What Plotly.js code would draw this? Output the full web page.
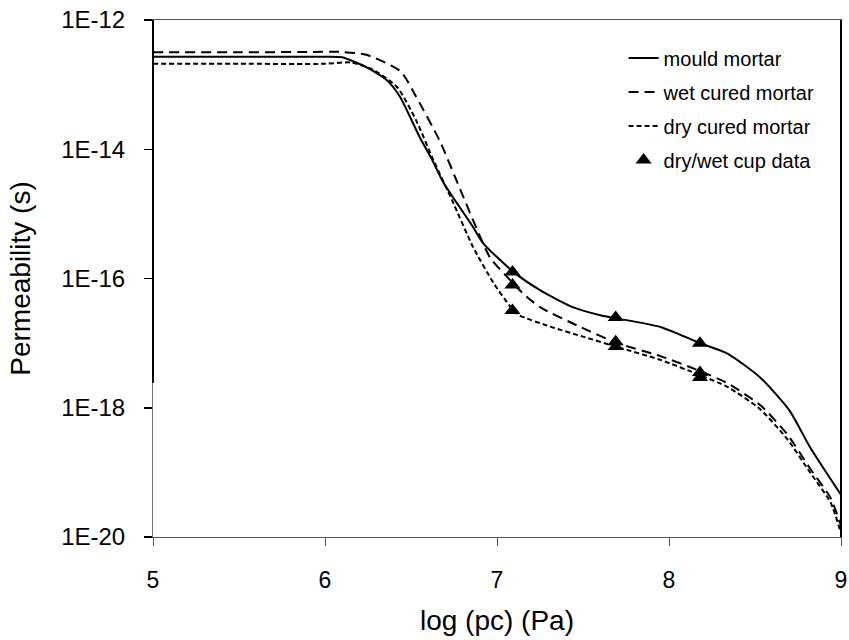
<!DOCTYPE html>
<html>
<head>
<meta charset="utf-8">
<script src="https://cdn.plot.ly/plotly-3.0.1.min.js"></script>
<style>html,body{margin:0;padding:0;background:#fff;}#chart{width:849px;height:640px;}</style>
</head>
<body>
<div id="chart"></div>
<script>
// log(pc) values and permeability (s)
const mouldX = [5.0, 5.5, 6.0, 6.1, 6.24, 6.36, 6.436, 6.55, 6.62, 6.69, 6.86, 6.92, 7.09, 7.25, 7.44, 7.60, 7.95, 8.18, 8.34, 8.53, 8.70, 8.82, 9.0];
const mouldY = [2.7e-13, 2.7e-13, 2.7e-13, 2.65e-13, 1.86e-13, 1.17e-13, 6.5e-14, 1.55e-14, 7.1e-15, 3.0e-15, 6.3e-16, 3.5e-16, 1.3e-16, 6.6e-17, 3.6e-17, 2.7e-17, 1.78e-17, 1.0e-17, 6.9e-18, 2.95e-18, 9.1e-19, 2.45e-19, 4.5e-20];

const wetX = [5.0, 5.5, 5.9, 6.1, 6.24, 6.44, 6.53, 6.67, 6.80, 6.96, 7.06, 7.15, 7.25, 7.48, 7.70, 7.95, 8.18, 8.34, 8.53, 8.69, 8.82, 8.94, 9.0];
const wetY = [3.16e-13, 3.16e-13, 3.2e-13, 3.2e-13, 2.9e-13, 1.6e-13, 6.5e-14, 1.3e-14, 1.95e-15, 2.1e-16, 1.05e-16, 5.9e-17, 3.6e-17, 1.8e-17, 1.0e-17, 6.3e-18, 3.7e-18, 2.4e-18, 1.1e-18, 3.8e-19, 1.15e-19, 4.0e-20, 1.5e-20];

const dryX = [5.0, 5.5, 6.0, 6.15, 6.28, 6.42, 6.53, 6.63, 6.74, 6.86, 6.98, 7.08, 7.13, 7.31, 7.50, 7.70, 7.95, 8.18, 8.34, 8.53, 8.69, 8.82, 8.94, 9.0];
const dryY = [2.1e-13, 2.1e-13, 2.1e-13, 2.2e-13, 1.7e-13, 9.1e-14, 2.8e-14, 6.8e-15, 1.6e-15, 3.1e-16, 8.5e-17, 3.6e-17, 2.7e-17, 1.8e-17, 1.26e-17, 8.7e-18, 5.5e-18, 3.2e-18, 2.1e-18, 9.5e-19, 3.2e-19, 1.0e-19, 3.4e-20, 1.15e-20];

const cupX = [7.09, 7.09, 7.09, 7.69, 7.69, 7.69, 8.18, 8.18, 8.18];
const cupY = [1.26e-16, 7.9e-17, 3.2e-17, 2.5e-17, 1.05e-17, 8.9e-18, 1.0e-17, 3.5e-18, 2.95e-18];

const xTicks = [5, 6, 7, 8, 9];
const yTickVals = [1e-20, 1e-18, 1e-16, 1e-14, 1e-12];
const yTickText = ['1E-20', '1E-18', '1E-16', '1E-14', '1E-12'];

const seriesNames = ['mould mortar', 'wet cured mortar', 'dry cured mortar', 'dry/wet cup data'];

const FONT = 'Liberation Sans, Arial, sans-serif';

const traces = [
  {x: mouldX, y: mouldY, name: seriesNames[0], mode: 'lines', legendgroup: 'a',
   line: {color: '#000', width: 2, shape: 'spline', smoothing: 0.6}},
  {x: wetX, y: wetY, name: seriesNames[1], mode: 'lines', legendgroup: 'b',
   line: {color: '#000', width: 2, dash: '10px,6px', shape: 'spline', smoothing: 0.6}},
  {x: dryX, y: dryY, name: seriesNames[2], mode: 'lines', legendgroup: 'c',
   line: {color: '#000', width: 2, dash: '5px,3px', shape: 'spline', smoothing: 0.6}},
  {x: cupX, y: cupY, name: seriesNames[3], mode: 'markers', legendgroup: 'd',
   marker: {symbol: 'triangle-up', size: 14, color: '#000'}}
];

const layout = {
  width: 849, height: 640,
  margin: {l: 153, r: 8, t: 20, b: 103},
  paper_bgcolor: '#fff', plot_bgcolor: '#fff',
  font: {family: FONT, color: '#000'},
  showlegend: true,
  legend: {x: 0.684, y: 0.964, xanchor: 'left', yanchor: 'top', bgcolor: 'rgba(0,0,0,0)',
           font: {size: 20, family: FONT, color: '#000'}, tracegroupgap: 5, traceorder: 'grouped'},
  xaxis: {
    range: [5, 9], tickvals: xTicks, ticktext: xTicks.map(String),
    showgrid: false, zeroline: false,
    showline: true, linecolor: '#555', linewidth: 1, mirror: true,
    ticks: 'outside', ticklen: 8, tickcolor: '#555', tickwidth: 1,
    tickfont: {size: 23, family: FONT, color: '#000'},
    ticklabelstandoff: 14,
    title: {text: 'log (pc) (Pa)', font: {size: 28, family: FONT, color: '#000'}, standoff: 18}
  },
  yaxis: {
    type: 'log', range: [-20, -12], tickvals: yTickVals, ticktext: yTickText,
    showgrid: false, zeroline: false,
    showline: true, linecolor: '#777', linewidth: 1, mirror: true,
    ticks: 'outside', ticklen: 8, tickcolor: '#000', tickwidth: 1.5,
    tickfont: {size: 24, family: FONT, color: '#000'},
    ticklabelstandoff: 14,
    title: {text: 'Permeability (s)', font: {size: 28, family: FONT, color: '#000'}, standoff: 22}
  },
  shapes: [
    {type: 'line', xref: 'paper', yref: 'paper', x0: 1, x1: 1, y0: 0, y1: 1, line: {color: '#000', width: 2}},
    {type: 'line', xref: 'paper', yref: 'paper', x0: 0, x1: 0, y0: 0.298, y1: 1, line: {color: '#000', width: 2}}
  ]
};

Plotly.newPlot('chart', traces, layout, {displayModeBar: false, staticPlot: true});
</script>
</body>
</html>
